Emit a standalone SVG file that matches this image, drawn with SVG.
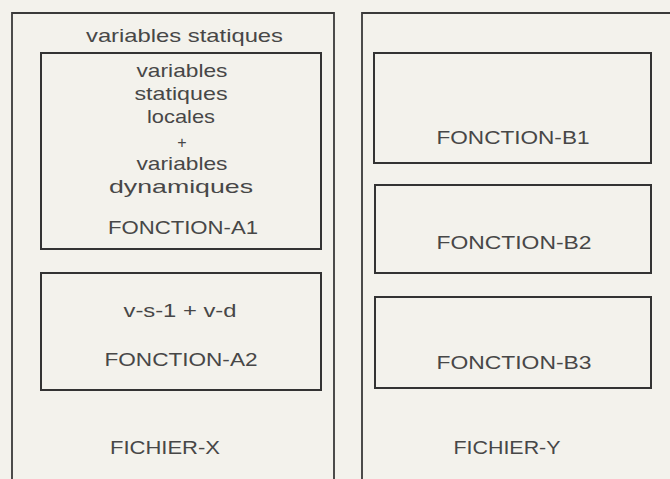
<svg xmlns="http://www.w3.org/2000/svg" width="670" height="479" viewBox="0 0 670 479">
<style>
.bg{fill:#f3f2ec}
.frame{fill:none;stroke:#3a3a3a;stroke-width:1.8}
.box{fill:none;stroke:#333;stroke-width:2}
.t{font-family:"Liberation Sans",Arial,sans-serif;font-size:19px;fill:#474747;text-anchor:middle}
</style>
<rect class="bg" x="0" y="0" width="670" height="479"/>
<g id="fichier-x">
<path class="frame" d="M12,479 V13 H334 V479"/>
<text class="t" x="184.5" y="42" textLength="197" lengthAdjust="spacingAndGlyphs">variables statiques</text>
<text class="t" x="165" y="454" textLength="110" lengthAdjust="spacingAndGlyphs">FICHIER-X</text>
</g>
<g id="fonction-a1">
<rect class="box" x="41" y="53" width="280" height="196"/>
<text class="t" x="182" y="77" textLength="91" lengthAdjust="spacingAndGlyphs">variables</text>
<text class="t" x="181" y="100" textLength="93" lengthAdjust="spacingAndGlyphs">statiques</text>
<text class="t" x="181" y="123" textLength="68" lengthAdjust="spacingAndGlyphs">locales</text>
<text class="t" x="182" y="148" style="font-size:16px">+</text>
<text class="t" x="182" y="170" textLength="91" lengthAdjust="spacingAndGlyphs">variables</text>
<text class="t" x="181" y="193" textLength="144" lengthAdjust="spacingAndGlyphs">dynamiques</text>
<text class="t" x="183" y="234" textLength="150" lengthAdjust="spacingAndGlyphs">FONCTION-A1</text>
</g>
<g id="fonction-a2">
<rect class="box" x="41" y="273" width="280" height="117"/>
<text class="t" x="180" y="317" textLength="113" lengthAdjust="spacingAndGlyphs">v-s-1 + v-d</text>
<text class="t" x="181" y="366" textLength="153" lengthAdjust="spacingAndGlyphs">FONCTION-A2</text>
</g>
<g id="fichier-y">
<path class="frame" d="M362,479 V13 H670"/>
<text class="t" x="507" y="454" textLength="107" lengthAdjust="spacingAndGlyphs">FICHIER-Y</text>
</g>
<g id="fonction-b1">
<rect class="box" x="374" y="53" width="277" height="110"/>
<text class="t" x="513" y="144" textLength="153" lengthAdjust="spacingAndGlyphs">FONCTION-B1</text>
</g>
<g id="fonction-b2">
<rect class="box" x="375" y="185" width="276" height="88"/>
<text class="t" x="514" y="249" textLength="155" lengthAdjust="spacingAndGlyphs">FONCTION-B2</text>
</g>
<g id="fonction-b3">
<rect class="box" x="375" y="297" width="276" height="91"/>
<text class="t" x="514" y="369" textLength="155" lengthAdjust="spacingAndGlyphs">FONCTION-B3</text>
</g>
<g id="connectors"/>
</svg>
